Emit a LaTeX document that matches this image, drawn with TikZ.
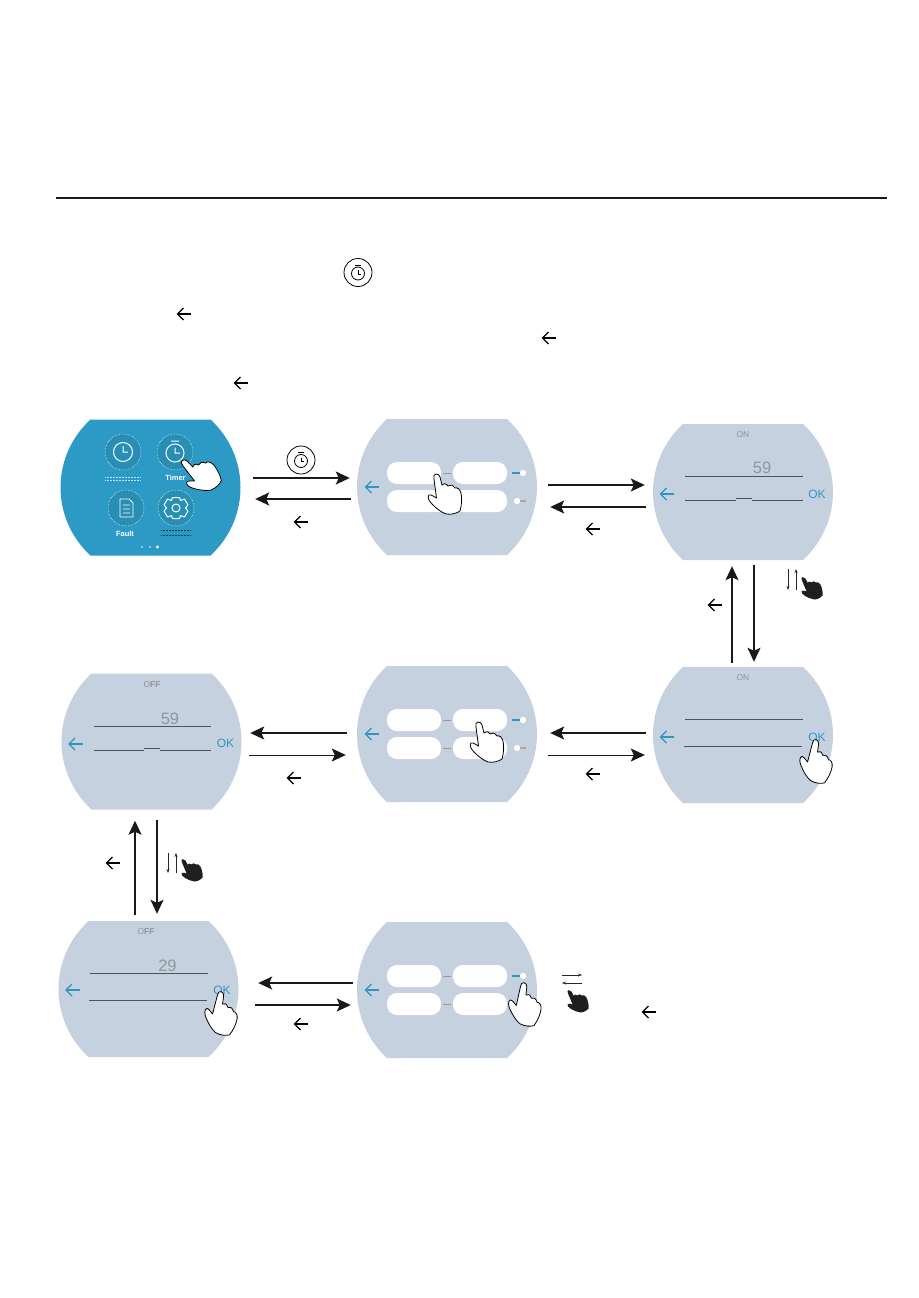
\documentclass[tikz,border=0pt]{standalone}
\usepackage{fontspec}
\setmainfont{Liberation Sans}
\usetikzlibrary{arrows.meta,positioning}
\definecolor{panelgray}{HTML}{C5D1DE}
\definecolor{panelblue}{HTML}{2C9AC4}
\definecolor{accentblue}{HTML}{2F96C1}
\definecolor{textgray}{HTML}{8F979F}
\definecolor{linegray}{HTML}{4A5560}

\begin{document}
\begin{tikzpicture}[
    x=1pt, y=-1pt,
    screen/.style={rectangle, inner sep=0pt, minimum width=180pt, minimum height=136pt,
      path picture={\fill[#1, shift={(path picture bounding box.center)}] (-60,-68) -- (60,-68)
        .. controls (79,-50.6) and (90,-26) .. (90,0) .. controls (90,26) and (79,50.6) .. (60,68)
        -- (-60,68) .. controls (-79,50.6) and (-90,26) .. (-90,0) .. controls (-90,-26) and (-79,-50.6) .. (-60,-68) -- cycle;}},
    arrow/.style={-{Stealth[length=14pt, width=13pt, inset=3pt]}, line width=1.6pt, draw=black!90},
    thinarrow/.style={-{Stealth[length=14pt, width=13pt, inset=3pt]}, line width=1pt, draw=black!90},
    smallarrow/.style={-{Stealth[length=4pt, width=3pt]}, line width=0.7pt, draw=black!85},
    status/.style={font=\fontsize{8.5}{9}\selectfont, text=textgray, inner sep=0pt},
    bignum/.style={font=\fontsize{16.5}{17}\selectfont, text=textgray, inner sep=0pt},
    okmark/.style={font=\fontsize{12}{12}\selectfont, text=accentblue, inner sep=0pt},
    iconlabel/.style={font=\bfseries\fontsize{7.5}{8}\selectfont, text=white, inner sep=0pt},
    backarrow/.pic={
      \draw[line width=1.3pt, #1] (7,0) -- (-6.5,0);
      \draw[line width=1.3pt, #1] (-0.5,-6) -- (-6.5,0) -- (-0.5,6);
    },
    backarrow/.default=black,
    stopwatch/.pic={
      \draw[line width=0.8pt, fill=white] (0,0) circle (14);
      \draw[line width=0.8pt] (0,1) circle (6.5);
      \draw[line width=0.8pt] (-3,-7.5) -- (3,-7.5);
      \draw[line width=0.7pt] (0,-2.5) -- (0,1.5) -- (3,1.5);
    },
    buttons/.pic={
      \fill[white, rounded corners=10pt] (-60,-25) rectangle (-6,-3);
      \fill[white, rounded corners=10pt] (6,-25) rectangle (60,-3);
      \fill[white, rounded corners=10pt] (-60,3) rectangle (-6,25);
      \fill[white, rounded corners=10pt] (6,3) rectangle (60,25);
      \draw[gray!80, line width=0.5pt] (-4,-14) -- (4,-14);
      \draw[gray!80, line width=0.5pt] (-4,14) -- (4,14);
      \fill[accentblue] (65,-15.2) rectangle (73,-12.8);
      \fill[white] (76,-14) circle (3.2);
      \pic at (-75,0) {backarrow=accentblue};
    },
    lowertoggle/.pic={
      \fill[gray!70] (72,12.8) rectangle (79,15.2);
      \fill[white] (70,14) circle (3.2);
    },
    handwhite/.pic={
      \draw[line width=0.8pt, fill=white, line join=round, #1]
        (-1,0) .. controls (-3,0) and (-3.5,2) .. (-3,5) -- (-0.5,24)
        .. controls (-3,23) and (-6,20) .. (-8,21) .. controls (-10,23) and (-8,27) .. (-5,30)
        .. controls (0,35) and (4,38) .. (9,40) .. controls (15,41) and (20,39) .. (23,37)
        .. controls (25,30) and (25,24) .. (24,19) .. controls (23,15) and (20,13) .. (18,14)
        .. controls (16,11) and (13,10) .. (11,12) .. controls (9,9) and (6,9) .. (5,11)
        -- (3,3) .. controls (2.5,1) and (1,0) .. (-1,0) -- cycle;
    },
    handblack/.pic={
      \fill[black!88, line join=round]
        (-1,0) .. controls (-3,0) and (-3.5,2) .. (-3,5) -- (-0.5,24)
        .. controls (-3,23) and (-6,20) .. (-8,21) .. controls (-10,23) and (-8,27) .. (-5,30)
        .. controls (0,35) and (4,38) .. (9,40) .. controls (15,41) and (20,39) .. (23,37)
        .. controls (25,30) and (25,24) .. (24,19) .. controls (23,15) and (20,13) .. (18,14)
        .. controls (16,11) and (13,10) .. (11,12) .. controls (9,9) and (6,9) .. (5,11)
        -- (3,3) .. controls (2.5,1) and (1,0) .. (-1,0) -- cycle;
    }
]
    \useasboundingbox (0,0) rectangle (918,1298);

    % Header rule and inline icons
    \draw[line width=1.5pt, black!90] (56,198) -- (887,198);
    \pic at (358,272.5) {stopwatch};
    \pic at (184,314) {backarrow};
    \pic at (549,338) {backarrow};
    \pic at (241,383) {backarrow};

    % Screens
    \node (home) [screen=panelblue] at (150.5,487.5) {};
    \node (timera) [screen=panelgray] at (447,487) {};
    \node (onhour) [screen=panelgray] at (743,492) {};
    \node (onmin) [screen=panelgray] at (743,735) {};
    \node (timerb) [screen=panelgray] at (447,734) {};
    \node (offhour) [screen=panelgray] at (151.5,741.5) {};
    \node (offmin) [screen=panelgray] at (148.5,989) {};
    \node (timerc) [screen=panelgray] at (447,990) {};

    % Home screen content
    \foreach \cx/\cy in {123/452, 175/452, 126/508, 176/508}
      \draw[white, densely dotted, line width=0.5pt, fill=panelblue!92!black] (\cx,\cy) circle (18);
    \draw[white, line width=1pt] (123,452) circle (9.5) (123,446) -- (123,452) -- (128,452);
    \draw[white, line width=1pt] (175,453) circle (9) (175,447.5) -- (175,453) -- (180,453) (171,441) -- (179,441);
    \draw[white, line width=0.9pt, line join=round] (120,499) -- (129,499) -- (133,503) -- (133,517) -- (120,517) -- cycle
      (123,505) -- (130,505) (123,509) -- (130,509) (123,513) -- (130,513);
    \draw[white, line width=1pt] (176,508) circle (4);
    \draw[white, line width=1pt, line join=round] (172.5,497.5) -- (179.5,497.5) -- (180.5,500.5) -- (184.5,499) -- (188,505) -- (185.5,508) -- (188,511) -- (184.5,517) -- (180.5,515.5) -- (179.5,518.5) -- (172.5,518.5) -- (171.5,515.5) -- (167.5,517) -- (164,511) -- (166.5,508) -- (164,505) -- (167.5,499) -- (171.5,500.5) -- cycle;
    \node (timerlabel) [iconlabel] at (175.5,477.5) {Timer};
    \node (faultlabel) [iconlabel] at (125,533.5) {Fault};
    \draw[white!70!panelblue, densely dotted, line width=0.5pt] (105,477) -- (141,477) (105,480) -- (141,480);
    \draw[black!60!panelblue, densely dotted, line width=0.5pt] (161,530) -- (191,530) (161,535) -- (191,535);
    \fill[white!45!panelblue] (142,547) circle (1.4) (150,547) circle (1.4);
    \fill[white] (157.5,547) circle (1.6);
    \pic at (183,460) [rotate=30] {handwhite};

    % Mode screens
    \pic at (447,487) {buttons};
    \pic at (447,487) {lowertoggle};
    \fill[white] (430,490) rectangle (464,512);
    \pic at (437,474) {handwhite};

    \pic at (447,734) {buttons};
    \pic at (447,734) {lowertoggle};
    \pic at (479,722) {handwhite};

    \pic at (447,990) {buttons};
    \pic at (525,983) [rotate=-20] {handwhite};

    % ON screens
    \node (onlabela) [status] at (743,435) {ON};
    \node (onvalue) [bignum] at (762,468) {59};
    \draw[linegray, line width=0.7pt] (685,476) -- (803,476);
    \draw[linegray, line width=1.1pt] (685,500.5) -- (736,500.5) (752,500.5) -- (803,500.5);
    \draw[linegray, line width=0.5pt] (736,498.5) -- (752,498.5);
    \pic at (667,494) {backarrow=accentblue};
    \node (onoka) [okmark] at (817,494) {OK};

    \node (onlabelb) [status] at (743,677.5) {ON};
    \draw[linegray, line width=0.7pt] (685,719) -- (803,719);
    \draw[linegray, line width=0.7pt] (684,746) -- (802,746);
    \pic at (667,737) {backarrow=accentblue};
    \node (onokb) [okmark] at (817,737) {OK};
    \pic at (817,740) [rotate=-22] {handwhite};

    % OFF screens
    \node (offlabela) [status] at (152,684.5) {O\textbf{FF}};
    \node (offvalue) [bignum] at (170,718.5) {59};
    \draw[linegray, line width=0.7pt] (94,726) -- (211,726);
    \draw[linegray, line width=0.7pt] (94,750) -- (144,750) (160,750) -- (211,750);
    \draw[linegray, line width=0.5pt] (144,748) -- (160,748);
    \pic at (75.5,744) {backarrow=accentblue};
    \node (offoka) [okmark] at (225.5,743.5) {OK};

    \node (offlabelb) [status] at (146,931.5) {O\textbf{FF}};
    \node (offvaluec) [bignum] at (167.5,966) {29};
    \draw[linegray, line width=1.1pt] (90,973.5) -- (208,973.5);
    \draw[linegray, line width=0.7pt] (89,1000) -- (207,1000);
    \pic at (72.5,990) {backarrow=accentblue};
    \node (offokb) [okmark] at (222,990) {OK};
    \pic at (222,992) [rotate=-22] {handwhite};

    % Arrows
    \draw [arrow] ([shift={(12.5pt,9.5pt)}]home.east) -- ([shift={(-7pt,9pt)}]timera.west);
    \draw [arrow] ([shift={(-6pt,-12pt)}]timera.west) -- ([shift={(14.5pt,-11.5pt)}]home.east);
    \draw [arrow] ([shift={(11pt,2pt)}]timera.east) -- ([shift={(-8pt,7pt)}]onhour.west);
    \draw [arrow] ([shift={(-7pt,-15pt)}]onhour.west) -- ([shift={(13pt,-20pt)}]timera.east);
    \draw [arrow] ([shift={(-11pt,4pt)}]onmin.north) -- ([shift={(-11pt,-6pt)}]onhour.south);
    \draw [arrow] ([shift={(11pt,-5pt)}]onhour.south) -- ([shift={(11pt,5pt)}]onmin.north);
    \draw [arrow] ([shift={(-7pt,2pt)}]onmin.west) -- ([shift={(13pt,1pt)}]timerb.east);
    \draw [thinarrow] ([shift={(11pt,-21pt)}]timerb.east) -- ([shift={(-8pt,-20pt)}]onmin.west);
    \draw [arrow] ([shift={(-10pt,1pt)}]timerb.west) -- ([shift={(8.5pt,8.5pt)}]offhour.east);
    \draw [thinarrow] ([shift={(7.5pt,-13.5pt)}]offhour.east) -- ([shift={(-11pt,-21pt)}]timerb.west);
    \draw [arrow] ([shift={(-13.5pt,6pt)}]offmin.north) -- ([shift={(-16.5pt,-11pt)}]offhour.south);
    \draw [arrow] ([shift={(5.5pt,-10pt)}]offhour.south) -- ([shift={(8.5pt,7pt)}]offmin.north);
    \draw [arrow] ([shift={(-4pt,7pt)}]timerc.west) -- ([shift={(19.5pt,6pt)}]offmin.east);
    \draw [arrow] ([shift={(16.5pt,-16pt)}]offmin.east) -- ([shift={(-6pt,-15pt)}]timerc.west);

    % Arrow legends
    \pic at (301,460) {stopwatch};
    \pic at (301,522) {backarrow};
    \pic at (593,529) {backarrow};
    \pic at (715,605) {backarrow};
    \pic at (593,774) {backarrow};
    \pic at (294,778) {backarrow};
    \pic at (113,863) {backarrow};
    \pic at (301,1024) {backarrow};
    \pic at (649,1012) {backarrow};

    \draw [smallarrow] (788,569) -- (788,590);
    \draw [smallarrow] (796,590) -- (796,569);
    \pic at (803,577) [scale=0.62, rotate=15] {handblack};
    \draw [smallarrow] (168,853) -- (168,873);
    \draw [smallarrow] (176,873) -- (176,853);
    \pic at (183,859) [scale=0.62, rotate=15] {handblack};
    \draw [smallarrow] (562,975) -- (582,975);
    \draw [smallarrow] (582,983) -- (562,983);
    \pic at (569,990) [scale=0.62, rotate=15] {handblack};
\end{tikzpicture}
\end{document}
